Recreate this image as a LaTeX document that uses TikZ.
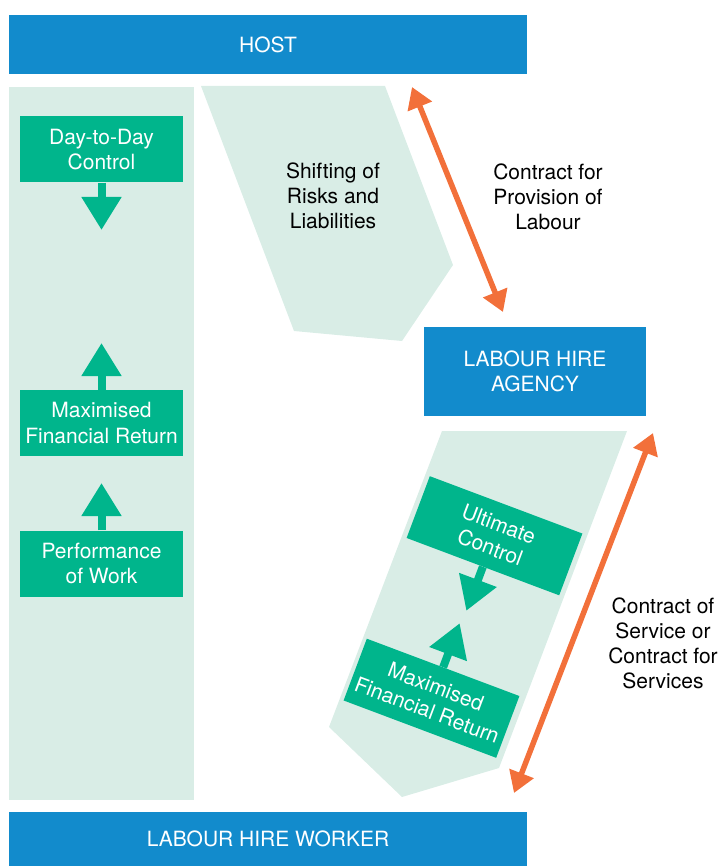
\documentclass[tikz,border=0pt]{standalone}
\usepackage{fontspec}
\setmainfont{TeX Gyre Heros}
\usetikzlibrary{arrows.meta,calc}
\definecolor{hostblue}{RGB}{18,139,204}
\definecolor{panelgreen}{RGB}{217,237,230}
\definecolor{boxgreen}{RGB}{0,181,140}
\definecolor{arrorange}{RGB}{242,112,58}
\begin{document}
\begin{tikzpicture}[x=1pt,y=-1pt,
  txt/.style={font=\fontsize{21}{25}\selectfont, align=center, inner sep=0pt},
  bluebar/.style={txt, fill=hostblue, text=white, minimum width=518pt, minimum height=59pt},
  greenbox/.style={txt, fill=boxgreen, text=white, minimum width=163pt, minimum height=66pt},
  panel/.style={fill=panelgreen},
  blockarrow/.style={draw=boxgreen, line width=8pt, -{Triangle[width=38pt,length=33pt]}},
  contractarrow/.style={draw=arrorange, line width=5.5pt, {Triangle[width=25pt,length=21pt]}-{Triangle[width=25pt,length=21pt]}}
]
\useasboundingbox (0,0) rectangle (723,866);

% background panels
\fill[panel] (9,87) rectangle (194,800);
\fill[panel] (201,86) -- (385,86) -- (453,265) -- (402,341) -- (294,331) -- cycle;
\fill[panel] (442,431) -- (627,431) -- (499,768) -- (402,797) -- (329,727) -- cycle;

% bars
\node[bluebar] (host) at (268,44.5) {HOST};
\node[bluebar, minimum height=54pt] (worker) at (268,839) {LABOUR HIRE WORKER};
\node[bluebar, minimum width=222pt, minimum height=89pt] (agency) at (535,371.5) {LABOUR HIRE\\AGENCY};

% left column
\node[greenbox] (day) at (101.5,149.5) {Day-to-Day\\Control};
\node[greenbox] (maxl) at (101.5,423) {Maximised\\Financial Return};
\node[greenbox] (perf) at (101.5,563.5) {Performance\\of Work};
\coordinate (dayend) at (101.5,230);
\coordinate (maxlend) at (101.5,343);
\coordinate (perfend) at (101.5,483);
\draw[blockarrow] (day.south) -- (dayend);
\draw[blockarrow] (maxl.north) -- (maxlend);
\draw[blockarrow] (perf.north) -- (perfend);

% shifting text
\node[txt] (shift) at (333,196) {Shifting of\\Risks and\\Liabilities};

% rotated column
\node[greenbox, rotate=-20.6] (ult) at (494.5,535.75) {Ultimate\\Control};
\node[greenbox, rotate=-20.6] (maxr) at (431.5,698.25) {Maximised\\Financial Return};
\coordinate (ultend) at ([shift={(-16.5,44)}]ult.south);
\coordinate (maxrend) at ([shift={(16.5,-44)}]maxr.north);
\draw[blockarrow] (ult.south) -- (ultend);
\draw[blockarrow] (maxr.north) -- (maxrend);

% contract arrows
\coordinate (c1a) at (412,87);
\coordinate (c1b) at (503,312);
\coordinate (c2a) at (653,433);
\coordinate (c2b) at (514,793);
\draw[contractarrow] (c1a) -- (c1b);
\draw[contractarrow] (c2a) -- (c2b);

\node[txt] (provision) at (548,197) {Contract for\\Provision of\\Labour};
\node[txt] (service) at (663,643) {Contract of\\Service or\\Contract for\\Services};
\end{tikzpicture}
\end{document}
